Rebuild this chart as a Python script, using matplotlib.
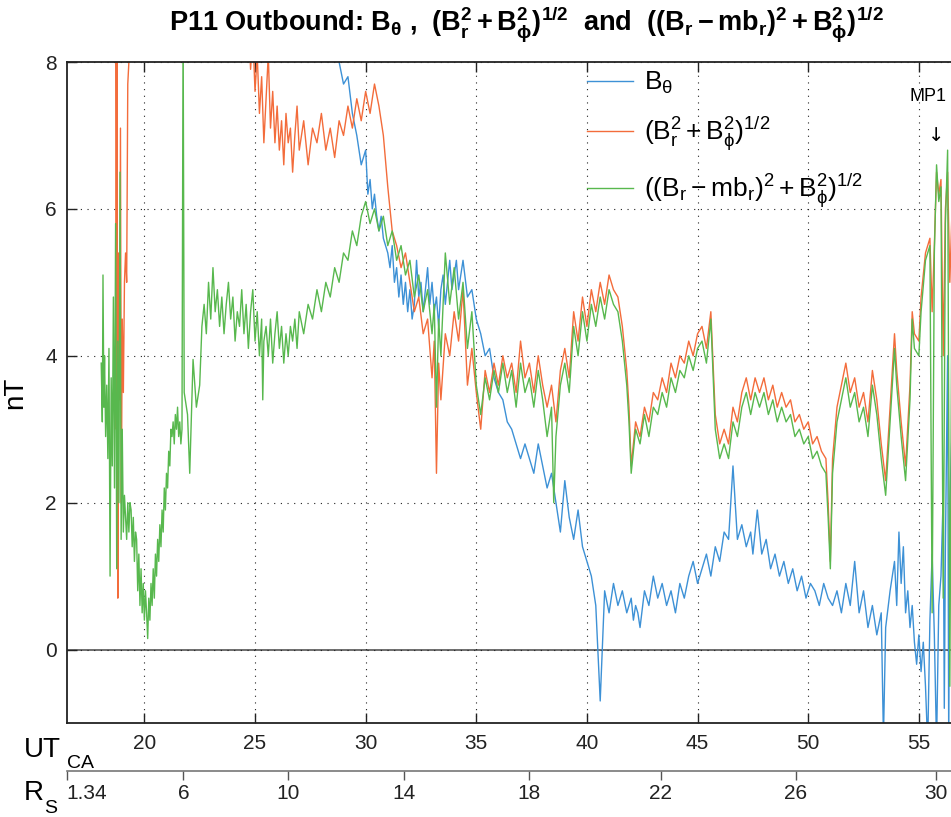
import matplotlib
matplotlib.use("Agg")
import matplotlib.pyplot as plt

# UT (hours) / nT values
t_bth = [28.6, 28.8, 29.0, 29.2, 29.4, 29.6, 29.8, 30.0, 30.1, 30.2, 30.3, 30.4, 30.5, 30.6, 30.7, 30.8, 30.9,
         31.0, 31.1, 31.2, 31.3, 31.4, 31.5, 31.6, 31.7, 31.8, 31.9, 32.0, 32.1, 32.2, 32.3, 32.4, 32.5,
         32.6, 32.7, 32.8, 32.9, 33.0, 33.1, 33.2, 33.3, 33.4, 33.5, 33.6, 33.7, 33.8, 33.9, 34.0, 34.1,
         34.2, 34.3, 34.4, 34.6, 34.8, 35.0, 35.2, 35.4, 35.6, 35.8, 36.0, 36.2, 36.4, 36.6, 36.8, 37.0,
         37.2, 37.4, 37.6, 37.8, 38.0, 38.2, 38.4, 38.6, 38.8, 39.0, 39.2, 39.4, 39.6, 39.8, 40.0, 40.2,
         40.4, 40.6, 40.8, 41.0, 41.2, 41.4, 41.6, 41.8, 42.0, 42.1, 42.2, 42.3, 42.4, 42.6, 42.8, 43.0,
         43.2, 43.4, 43.6, 43.8, 44.0, 44.2, 44.4, 44.6, 44.8, 45.0, 45.2, 45.4, 45.6, 45.8, 46.0, 46.2,
         46.4, 46.6, 46.8, 47.0, 47.2, 47.4, 47.5, 47.7, 47.9, 48.1, 48.3, 48.5, 48.7, 48.9, 49.1, 49.3,
         49.5, 49.7, 49.9, 50.1, 50.3, 50.5, 50.7, 50.9, 51.1, 51.3, 51.5, 51.7, 51.9, 52.1, 52.3, 52.5,
         52.7, 52.9, 53.1, 53.3, 53.4, 53.5, 53.7, 53.9, 54.0, 54.1, 54.2, 54.3, 54.4, 54.5, 54.6, 54.7,
         54.8, 54.9, 55.0, 55.1, 55.2, 55.3, 55.4, 55.5, 55.6, 55.7, 55.8, 55.9, 56.0, 56.1, 56.15, 56.2,
         56.3, 56.35, 56.4, 56.5]
bth = [9.0, 8.0, 7.7, 7.8, 7.3, 7.0, 6.6, 6.8, 6.2, 6.4, 6.0, 6.2, 5.9, 5.7, 5.9, 5.6, 5.5,
       5.4, 5.2, 5.5, 5.0, 5.2, 4.8, 5.1, 4.7, 5.0, 4.6, 4.9, 4.5, 4.7, 5.3, 4.8, 5.0,
       4.6, 4.9, 5.2, 4.7, 5.0, 4.6, 4.8, 4.4, 4.9, 5.1, 4.7, 5.0, 5.3, 4.9, 5.1, 5.3,
       4.9, 5.1, 5.3, 4.8, 4.9, 4.5, 4.3, 4.0, 4.1, 3.7, 3.5, 3.4, 3.1, 3.0, 2.8, 2.6,
       2.8, 2.6, 2.4, 2.8, 2.5, 2.2, 2.4, 2.0, 1.6, 2.3, 1.8, 1.5, 1.9, 1.4, 1.2, 1.0,
       0.6, -0.7, 0.8, 0.5, 0.9, 0.6, 0.8, 0.5, 0.7, 0.4, 0.6, 0.5, 0.3, 0.8, 0.6, 1.0,
       0.7, 0.9, 0.6, 0.8, 0.5, 0.9, 0.7, 1.0, 1.2, 0.9, 1.1, 1.3, 1.0, 1.4, 1.2, 1.6,
       1.5, 2.5, 1.5, 1.7, 1.4, 1.6, 1.3, 1.9, 1.3, 1.5, 1.1, 1.3, 1.0, 1.2, 0.9, 1.1,
       0.8, 1.0, 0.7, 0.9, 0.8, 0.6, 0.9, 0.7, 0.6, 0.8, 0.5, 0.9, 0.6, 1.2, 0.5, 0.8,
       0.3, 0.6, 0.2, 0.5, -1.2, 0.3, 0.8, 1.2, 0.6, 1.6, 0.9, 1.4, 0.5, 0.8, 0.3, 0.6,
       0.1, -0.2, 0.2, -0.3, 0.1, -0.5, -1.3, 0.4, 1.3, 0.2, -1.3, 0.6, 1.0, 2.1, -0.8, 1.4,
       4.0, -1.3, 2.0, 3.0]

t_brp = [18.70, 18.73, 18.76, 18.80, 18.84, 18.88, 18.92, 18.96, 19.00, 19.05, 19.10, 19.15, 19.20,
         19.25, 19.30, 19.35, 21.0, 23.0, 24.7, 24.8, 24.9, 25.0, 25.1, 25.2, 25.3, 25.4, 25.5, 25.6,
         25.7, 25.8, 25.9, 26.0, 26.1, 26.2, 26.3, 26.4, 26.5, 26.6, 26.7, 26.8, 26.9, 27.0, 27.2, 27.4,
         27.6, 27.8, 28.0, 28.2, 28.4, 28.6, 28.8, 29.0, 29.2, 29.4, 29.6, 29.8, 30.0, 30.2, 30.4, 30.6,
         30.8, 31.0, 31.2, 31.4, 31.6, 31.8, 32.0, 32.2, 32.4, 32.6, 32.8, 33.0, 33.1, 33.2, 33.3, 33.4,
         33.6, 33.8, 34.0, 34.2, 34.4, 34.6, 34.8, 35.0, 35.2, 35.4, 35.6, 35.8, 36.0, 36.2, 36.4, 36.6,
         36.8, 37.0, 37.2, 37.4, 37.6, 37.8, 38.0, 38.2, 38.4, 38.6, 38.8, 39.0, 39.2, 39.4, 39.6, 39.8,
         40.0, 40.2, 40.4, 40.6, 40.8, 41.0, 41.2, 41.4, 41.6, 41.8, 41.9, 42.0, 42.2, 42.4, 42.6, 42.8,
         43.0, 43.2, 43.4, 43.6, 43.8, 44.0, 44.2, 44.4, 44.6, 44.8, 45.0, 45.2, 45.4, 45.6, 45.8, 46.0,
         46.2, 46.4, 46.6, 46.8, 47.0, 47.2, 47.4, 47.6, 47.8, 48.0, 48.2, 48.4, 48.6, 48.8, 49.0, 49.2,
         49.4, 49.6, 49.8, 50.0, 50.2, 50.4, 50.6, 50.8, 50.9, 51.0, 51.1, 51.3, 51.5, 51.7, 51.9, 52.1,
         52.3, 52.5, 52.7, 52.9, 53.1, 53.3, 53.5, 53.7, 53.9, 54.0, 54.2, 54.4, 54.6, 54.7, 54.8, 55.0,
         55.1, 55.3, 55.5, 55.6, 55.7, 55.8, 55.9, 56.0, 56.1, 56.2, 56.3, 56.4, 56.5]
brp = [9.0, 3.0, 9.0, 0.7, 5.4, 3.4, 7.1, 2.0, 4.5, 3.5, 5.0, 5.4, 5.0,
       7.7, 8.0, 9.5, 10.0, 10.0, 8.6, 7.9, 8.4, 7.6, 8.1, 7.3, 7.8, 6.9, 7.5, 8.1,
       7.1, 7.6, 6.9, 7.4, 6.8, 7.2, 6.6, 7.3, 6.9, 7.1, 6.5, 7.0, 7.4, 6.8, 7.2, 6.6,
       7.1, 6.9, 7.3, 6.8, 7.1, 6.7, 7.2, 7.0, 7.4, 7.1, 7.5, 7.2, 7.6, 7.3, 7.7, 7.4,
       7.0, 6.3, 5.7, 5.5, 5.2, 5.4, 5.0, 4.6, 4.8, 4.3, 4.5, 3.7, 4.2, 2.4, 3.9, 3.4,
       4.3, 4.0, 4.6, 4.2, 4.9, 3.6, 4.1, 3.5, 3.0, 3.8, 3.5, 3.9, 3.6, 4.0, 3.7, 3.9,
       3.5, 4.2, 3.7, 3.9, 3.5, 4.0, 3.6, 3.3, 3.6, 3.1, 3.8, 4.1, 3.7, 4.6, 4.2, 4.8,
       4.4, 4.9, 4.6, 5.0, 4.7, 5.1, 4.9, 4.8, 4.4, 3.8, 3.3, 2.5, 3.1, 2.9, 3.3, 3.1,
       3.5, 3.4, 3.7, 3.5, 3.9, 3.7, 4.0, 3.9, 4.2, 4.0, 4.3, 4.4, 4.1, 4.6, 3.2, 2.8,
       3.0, 2.8, 3.3, 3.1, 3.5, 3.7, 3.4, 3.7, 3.5, 3.7, 3.4, 3.6, 3.3, 3.5, 3.3, 3.4,
       3.1, 3.2, 3.0, 3.1, 2.8, 2.9, 2.7, 2.6, 2.0, 1.2, 2.6, 3.3, 3.6, 3.9, 3.5, 3.7,
       3.3, 3.5, 3.1, 3.8, 3.4, 2.8, 2.3, 3.3, 4.3, 3.8, 3.1, 2.5, 3.6, 4.6, 4.3, 4.2,
       4.8, 5.4, 5.6, 4.6, 5.5, 6.5, 6.2, 6.4, 4.0, 6.0, 6.5, 5.0, 6.0]

t_brm = [18.05, 18.10, 18.13, 18.17, 18.20, 18.25, 18.30, 18.35, 18.40, 18.45, 18.50, 18.55, 18.60,
         18.65, 18.70, 18.75, 18.80, 18.85, 18.90, 18.95, 19.00, 19.05, 19.10, 19.15, 19.20, 19.25,
         19.30, 19.35, 19.40, 19.45, 19.50, 19.55, 19.60, 19.65, 19.70, 19.75, 19.80, 19.85, 19.90,
         19.95, 20.00, 20.05, 20.10, 20.15, 20.20, 20.25, 20.30, 20.35, 20.40, 20.45, 20.50, 20.55,
         20.60, 20.65, 20.70, 20.75, 20.80, 20.85, 20.90, 20.95, 21.00, 21.05, 21.10, 21.15, 21.20,
         21.25, 21.30, 21.35, 21.40, 21.45, 21.50, 21.55, 21.60, 21.65, 21.70, 21.75, 21.80, 21.95,
         22.05, 22.20, 22.35, 22.50, 22.60, 22.7, 22.8, 22.9, 23.0, 23.1, 23.2, 23.3, 23.4, 23.5, 23.6,
         23.7, 23.8, 23.9, 24.0, 24.1, 24.2, 24.3, 24.4, 24.5, 24.6, 24.7, 24.8, 24.9, 25.0, 25.1,
         25.2, 25.3, 25.35, 25.4, 25.5, 25.6, 25.7, 25.8, 25.9, 26.0, 26.1, 26.2, 26.3, 26.4, 26.5,
         26.6, 26.7, 26.8, 26.9, 27.0, 27.2, 27.4, 27.6, 27.8, 28.0, 28.2, 28.4, 28.6, 28.8, 29.0,
         29.2, 29.4, 29.6, 29.8, 30.0, 30.2, 30.4, 30.6, 30.8, 31.0, 31.2, 31.4, 31.6, 31.8, 32.0,
         32.2, 32.4, 32.6, 32.8, 33.0, 33.1, 33.2, 33.3, 33.4, 33.6, 33.8, 34.0, 34.2, 34.4, 34.6,
         34.8, 35.0, 35.2, 35.4, 35.6, 35.8, 36.0, 36.2, 36.4, 36.6, 36.8, 37.0, 37.2, 37.4, 37.6,
         37.8, 38.0, 38.2, 38.4, 38.5, 38.6, 38.8, 39.0, 39.2, 39.4, 39.6, 39.8, 40.0, 40.2, 40.4,
         40.6, 40.8, 41.0, 41.2, 41.4, 41.6, 41.8, 41.9, 42.0, 42.2, 42.4, 42.6, 42.8, 43.0, 43.2,
         43.4, 43.6, 43.8, 44.0, 44.2, 44.4, 44.6, 44.8, 45.0, 45.2, 45.4, 45.6, 45.8, 46.0, 46.2,
         46.4, 46.6, 46.8, 47.0, 47.2, 47.4, 47.6, 47.8, 48.0, 48.2, 48.4, 48.6, 48.8, 49.0, 49.2,
         49.4, 49.6, 49.8, 50.0, 50.2, 50.4, 50.6, 50.8, 50.9, 51.0, 51.1, 51.3, 51.5, 51.7, 51.9,
         52.1, 52.3, 52.5, 52.7, 52.9, 53.1, 53.3, 53.5, 53.7, 53.9, 54.0, 54.2, 54.4, 54.6, 54.7,
         54.8, 55.0, 55.1, 55.3, 55.5, 55.6, 55.7, 55.8, 55.9, 56.0, 56.1, 56.2, 56.3, 56.4, 56.5]
brm = [3.9, 3.1, 5.1, 3.3, 4.0, 2.9, 3.6, 2.6, 4.1, 1.0, 3.7, 2.5, 4.8,
       2.2, 5.8, 1.1, 4.2, 2.0, 6.5, 1.5, 3.0, 1.6, 2.1, 1.8, 1.5, 2.0,
       1.6, 2.0, 1.9, 1.4, 1.8, 1.2, 1.6, 1.5, 0.8, 1.3, 0.6, 1.1, 0.5,
       0.9, 0.4, 0.8, 0.5, 0.15, 0.7, 0.4, 0.9, 0.6, 1.1, 0.7, 1.3, 1.0,
       1.5, 1.2, 1.7, 1.4, 1.9, 1.6, 2.2, 1.9, 2.4, 2.2, 2.7, 2.5, 3.0,
       2.9, 3.1, 2.8, 3.2, 3.0, 3.3, 2.9, 3.1, 2.8, 3.0, 8.6, 3.5, 3.2,
       2.4, 3.95, 3.3, 3.6, 4.4, 4.7, 4.3, 5.0, 4.5, 5.2, 4.6, 4.9, 4.4, 4.8, 4.3,
       4.7, 5.0, 4.5, 4.8, 4.2, 4.6, 4.4, 4.9, 4.3, 4.7, 4.1, 4.6, 4.9, 4.2, 4.6,
       4.0, 4.5, 3.4, 4.2, 4.4, 4.0, 4.5, 3.9, 4.3, 4.6, 4.1, 4.4, 3.9, 4.3, 4.0,
       4.4, 4.2, 4.5, 4.1, 4.6, 4.3, 4.7, 4.5, 4.9, 4.6, 5.0, 4.8, 5.2, 5.0, 5.4,
       5.3, 5.7, 5.5, 5.9, 6.1, 5.8, 6.0, 5.7, 5.9, 5.5, 5.7, 5.3, 5.5, 5.1, 5.3,
       4.8, 5.1, 4.6, 4.9, 4.3, 4.7, 3.3, 4.5, 4.0, 5.4, 4.7, 5.2, 4.5, 5.0, 4.1,
       4.6, 3.6, 3.2, 3.7, 3.4, 3.8, 3.5, 3.9, 3.5, 3.8, 3.3, 3.9, 3.5, 3.7, 3.3,
       3.8, 3.4, 2.9, 3.3, 2.0, 2.9, 3.6, 3.9, 3.5, 4.4, 4.0, 4.6, 4.2, 4.7, 4.4,
       4.8, 4.5, 4.9, 4.7, 4.6, 4.2, 3.6, 3.1, 2.4, 3.0, 2.8, 3.2, 2.9, 3.3, 3.2,
       3.5, 3.3, 3.7, 3.5, 3.8, 3.7, 4.0, 3.8, 4.1, 4.2, 3.9, 4.5, 3.0, 2.6, 2.8,
       2.6, 3.1, 2.9, 3.3, 3.5, 3.2, 3.5, 3.3, 3.5, 3.2, 3.4, 3.1, 3.3, 3.1, 3.2,
       2.9, 3.0, 2.8, 2.9, 2.6, 2.7, 2.5, 2.4, 1.8, 1.1, 2.4, 3.1, 3.4, 3.7, 3.3,
       3.5, 3.1, 3.3, 2.9, 3.6, 3.2, 2.6, 2.1, 3.1, 4.1, 3.6, 2.9, 2.3, 3.4, 4.5,
       4.1, 4.0, 4.6, 5.3, 5.5, 0.5, 5.4, 6.6, 6.1, 6.3, 0.7, 5.8, 6.8, -0.5, 5.5]

ut_ticks = [20, 25, 30, 35, 40, 45, 50, 55]
nt_ticks = [0, 2, 4, 6, 8]
rs_labels = ["1.34", "6", "10", "14", "18", "22", "26", "30"]
rs_at_ut = [16.49, 21.76, 26.48, 31.75, 37.40, 43.33, 49.45, 55.77]

C_BLUE = "#3d91d6"
C_ORANGE = "#f36c3b"
C_GREEN = "#58b84e"

plt.rcParams["font.family"] = ["Liberation Sans", "DejaVu Sans"]
plt.rcParams["mathtext.fontset"] = "custom"
plt.rcParams["mathtext.rm"] = "Liberation Sans"
plt.rcParams["mathtext.it"] = "Liberation Sans:italic"
plt.rcParams["mathtext.bf"] = "Liberation Sans:bold"

W, H = 951, 817
fig = plt.figure(figsize=(W / 100, H / 100), dpi=100)

def px(x, y):
    return x / W, 1 - y / H

XMIN, XMAX = 16.49, 56.6
ax_left = 66.7 / W
ax_w = (144.3 + (XMAX - 20) * 22.13 - 66.7) / W
ax = fig.add_axes([ax_left, (H - 723) / H, ax_w, (723 - 62) / H])

ax.plot(t_bth, bth, color=C_BLUE, lw=1.0,
        label=r"$\mathrm{B_\theta}$")
ax.plot(t_brp, brp, color=C_ORANGE, lw=1.0,
        label=r"$\mathrm{(B_r^2 + B_\phi^2)^{1/2}}$")
ax.plot(t_brm, brm, color=C_GREEN, lw=1.0,
        label=r"$\mathrm{((B_r - mb_r)^2 + B_\phi^2)^{1/2}}$")

ax.axhline(0, color="#555555", lw=1.2, zorder=0)
ax.set_xlim(XMIN, XMAX)
ax.set_ylim(-1, 8)
ax.set_xticks(ut_ticks)
ax.set_yticks(nt_ticks)
ax.grid(True, color="#222222", linestyle=(0, (1, 5)), lw=0.8)
ax.tick_params(direction="in", length=7, width=1, top=True, right=False,
               labelsize=15, colors="#222222")
ax.tick_params(axis="x", pad=8)
ax.tick_params(axis="y", pad=7)
for s in ax.spines.values():
    s.set_linewidth(1.3)
    s.set_color("#222222")
ax.set_ylabel("nT", fontsize=20, labelpad=12)

leg = ax.legend(loc="upper left", bbox_to_anchor=px(587, 70),
                bbox_transform=fig.transFigure, frameon=False,
                fontsize=19, handlelength=1.75, handletextpad=0.4,
                borderpad=0, borderaxespad=0, labelspacing=0.7)

# second axis line for R_S
ax2 = fig.add_axes([ax_left, (H - 771) / H, ax_w, 0.0001])
ax2.set_xlim(XMIN, XMAX)
ax2.set_xticks(rs_at_ut)
ax2.set_xticklabels(rs_labels)
ax2.set_yticks([])
for k in ["top", "left", "right"]:
    ax2.spines[k].set_visible(False)
ax2.spines["bottom"].set_color("#777777")
ax2.spines["bottom"].set_linewidth(1.2)
ax2.tick_params(axis="x", direction="out", length=6.5, width=1, color="#555555",
                labelsize=15, pad=3, labelcolor="#222222")
first = ax2.get_xticklabels()[0]
first.set_ha("left")

fig.text(*px(24, 757), "UT", fontsize=20, va="baseline")
fig.text(*px(67, 768), "CA", fontsize=14, va="baseline")
fig.text(*px(24, 800), "R", fontsize=20, va="baseline")
fig.text(*px(44, 813), "S", fontsize=14, va="baseline")

ax.text(55.4, 7.53, "MP1", fontsize=13, ha="center", va="center")
ax.text(55.78, 7.0, "\u2193", fontsize=14, ha="center", va="center",
        family="DejaVu Sans")

fig.text(*px(526, 31),
         r"P11 Outbound: $\mathbf{B_\theta}$ ,  $\mathbf{(B_r^2 + B_\phi^2)^{1/2}}$  and  "
         r"$\mathbf{((B_r - mb_r)^2 + B_\phi^2)^{1/2}}$",
         fontsize=19.5, fontweight="bold", ha="center", va="baseline")

fig.savefig("out.png", dpi=100)
